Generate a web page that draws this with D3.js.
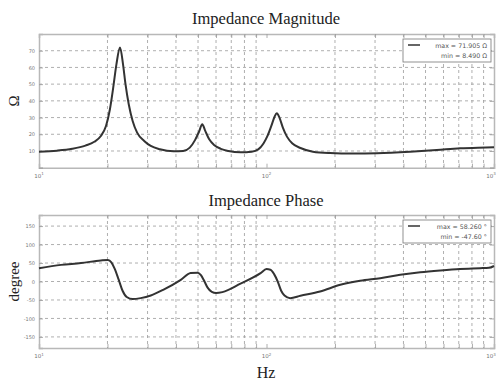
<!DOCTYPE html>
<html>
<head>
<meta charset="utf-8">
<script src="https://cdn.jsdelivr.net/npm/d3@7"></script>
<style>
  html, body { margin: 0; padding: 0; background: #fff; }
  svg { display: block; }
</style>
</head>
<body>
<svg id="chart" width="496" height="384"></svg>
<script>
// Frequency response of a speaker: impedance magnitude and phase
const magFreq = [10, 12, 14, 16, 17.5, 18.7, 19.7, 20.5, 21.2, 21.9, 22.7, 23.4, 24.0, 24.8, 25.8, 27, 29, 31, 34, 39, 43, 46, 48.5, 50.5, 52.2, 53.8, 56, 59, 63, 68, 77, 86, 92, 97, 101, 105, 108.5, 111, 114, 118, 123, 130, 141, 160, 190, 240, 306, 428, 560, 709, 850, 1000];
const magOhm  = [9.6, 10.2, 11.3, 13.2, 15.5, 19, 25, 35, 48, 62, 71.905, 62, 50, 38, 28, 21, 16, 13, 11, 9.8, 10, 12, 16.5, 21.5, 26, 22, 17, 13.5, 11.3, 10, 9.2, 9.6, 11, 14.5, 19, 25, 30.5, 32.6, 30, 24, 18.6, 14.5, 11.8, 9.6, 8.8, 8.49, 8.7, 9.6, 10.6, 11.6, 12, 12.2];

const phaseFreq = [10, 12.5, 15.3, 18.7, 20.1, 20.8, 21.5, 22.4, 23.3, 24.3, 25.8, 28, 31, 35.3, 42, 46.4, 49.8, 51.5, 53, 55, 57.5, 60, 64, 76.9, 94.2, 100, 104, 108, 112, 116, 120, 127, 141, 172, 211, 258, 316, 387, 474, 580, 709, 868, 950, 1000];
const phaseDeg  = [36, 45, 50, 57, 58.26, 52, 35, 5, -25, -42, -47.6, -45, -38, -22, 4.6, 22.7, 24, 17, 4, -16, -28, -31, -28.7, -6, 22.7, 33.5, 32, 20, 0, -25, -38, -45, -38.6, -27, -9, 2, 9, 18, 25, 30, 34, 36, 37, 42];

const magTicks = [0, 10, 20, 30, 40, 50, 60, 70];
const phaseTicks = [-150, -100, -50, 0, 50, 100, 150];
const decadeTicks = [10, 100, 1000];

const svg = d3.select("#chart");
const left = 39, right = 494;

const x = d3.scaleLog().domain([10, 1000]).range([left, right]);

// Minor log grid positions (2..9 × each decade, plus decade lines)
const minorFreqs = [];
for (const d of [10, 100]) for (let k = 2; k <= 9; k++) minorFreqs.push(d * k);

const gridColor = "#9a9a9a";
const frameColor = "#b8b8b8";
const lineColor = "#333";
const serif = "'Liberation Serif', 'DejaVu Serif', serif";

function panel(opts) {
  const { top, bottom, yDomain, yTicks, freq, vals, title, titleY, yLabel, legendUnit, legendDigitsMin } = opts;
  const y = d3.scaleLinear().domain(yDomain).range([bottom, top]);
  const g = svg.append("g");

  // Title
  g.append("text")
    .attr("x", 266).attr("y", titleY)
    .attr("text-anchor", "middle")
    .attr("font-family", serif)
    .attr("font-size", 16.5)
    .attr("fill", "#222")
    .text(title);

  // Horizontal dashed grid
  g.append("g").selectAll("line").data(yTicks.filter(t => y(t) > top + 1 && y(t) < bottom - 1)).join("line")
    .attr("x1", left).attr("x2", right)
    .attr("y1", d => y(d)).attr("y2", d => y(d))
    .attr("stroke", gridColor).attr("stroke-width", 0.8)
    .attr("stroke-dasharray", "3,3");

  // Vertical dashed grid (log)
  g.append("g").selectAll("line").data(minorFreqs).join("line")
    .attr("x1", d => x(d)).attr("x2", d => x(d))
    .attr("y1", top).attr("y2", bottom)
    .attr("stroke", gridColor).attr("stroke-width", 0.8)
    .attr("stroke-dasharray", "3,3");

  // Frame axes with inward ticks
  const allX = minorFreqs.concat(decadeTicks);
  const ab = g.append("g").attr("transform", `translate(0,${bottom})`)
    .call(d3.axisBottom(x).tickValues(allX).tickSize(-4).tickFormat(""));
  const at = g.append("g").attr("transform", `translate(0,${top})`)
    .call(d3.axisTop(x).tickValues(allX).tickSize(-4).tickFormat(""));
  const al = g.append("g").attr("transform", `translate(${left},0)`)
    .call(d3.axisLeft(y).tickValues(yTicks).tickSize(-4).tickPadding(4)
      .tickFormat(d => d === yDomain[0] ? "" : d));
  const ar = g.append("g").attr("transform", `translate(${right},0)`)
    .call(d3.axisRight(y).tickValues(yTicks).tickSize(-4).tickFormat(""));
  for (const a of [ab, at, al, ar]) {
    a.selectAll(".domain").attr("stroke", frameColor).attr("stroke-width", 1.5);
    a.selectAll(".tick line").attr("stroke", "#999").attr("stroke-width", 0.8);
    a.selectAll("text").attr("fill", "#777").attr("font-size", 5).attr("font-family", "DejaVu Sans");
  }

  // Decade labels 10^n under the frame
  const dl = g.append("g").selectAll("text").data(decadeTicks).join("text")
    .attr("x", d => Math.min(x(d), right - 3))
    .attr("y", bottom + 10)
    .attr("text-anchor", "middle")
    .attr("font-family", "DejaVu Sans").attr("font-size", 5.5).attr("fill", "#777");
  dl.append("tspan").text("10");
  dl.append("tspan").attr("dy", -2.5).attr("font-size", 4).text(d => Math.round(Math.log10(d)));

  // Y label
  g.append("text")
    .attr("transform", `translate(19,${(top + bottom) / 2}) rotate(-90)`)
    .attr("text-anchor", "middle")
    .attr("font-family", serif)
    .attr("font-size", 15)
    .attr("fill", "#222")
    .text(yLabel);

  // Curve
  const pts = freq.map((f, i) => [f, vals[i]]);
  const line = d3.line().x(d => x(d[0])).y(d => y(d[1])).curve(d3.curveMonotoneX);
  g.append("path").datum(pts)
    .attr("d", line)
    .attr("fill", "none")
    .attr("stroke", lineColor)
    .attr("stroke-width", 2)
    .attr("stroke-linejoin", "round");

  // Legend with extreme values
  const vMax = d3.max(vals), vMin = d3.min(vals);
  const lx = 403, ly = top + 5, lw = 88, lh = 23;
  const lg = g.append("g");
  lg.append("rect").attr("x", lx).attr("y", ly).attr("width", lw).attr("height", lh)
    .attr("fill", "#fff").attr("stroke", "#777").attr("stroke-width", 0.8);
  lg.append("line").attr("x1", lx + 5).attr("x2", lx + 17).attr("y1", ly + 6).attr("y2", ly + 6)
    .attr("stroke", lineColor).attr("stroke-width", 1.5);
  lg.append("text").attr("x", lx + lw - 4).attr("y", ly + 8.5)
    .attr("text-anchor", "end").attr("font-family", "DejaVu Sans").attr("font-size", 6.3).attr("fill", "#555")
    .text(`max = ${vMax.toFixed(3)} ${legendUnit}`);
  lg.append("text").attr("x", lx + lw - 4).attr("y", ly + 18.5)
    .attr("text-anchor", "end").attr("font-family", "DejaVu Sans").attr("font-size", 6.3).attr("fill", "#555")
    .text(`min = ${vMin.toFixed(legendDigitsMin)} ${legendUnit}`);
}

panel({
  top: 34, bottom: 167.7, yDomain: [0, 80], yTicks: magTicks,
  freq: magFreq, vals: magOhm,
  title: "Impedance Magnitude", titleY: 24, yLabel: "Ω", legendUnit: "Ω", legendDigitsMin: 3
});

panel({
  top: 215, bottom: 348, yDomain: [-180, 180], yTicks: phaseTicks,
  freq: phaseFreq, vals: phaseDeg,
  title: "Impedance Phase", titleY: 206, yLabel: "degree", legendUnit: "°", legendDigitsMin: 2
});

// X axis title
svg.append("text")
  .attr("x", 266).attr("y", 378)
  .attr("text-anchor", "middle")
  .attr("font-family", serif)
  .attr("font-size", 16)
  .attr("fill", "#222")
  .text("Hz");
</script>
</body>
</html>
